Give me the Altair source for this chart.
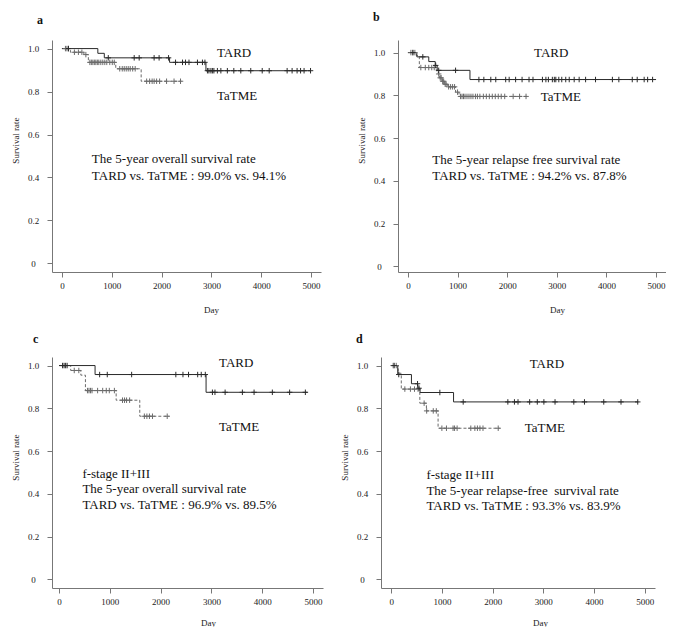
import altair as alt
import pandas as pd

FONT = "Liberation Serif"
PLUS = "M-1,0L1,0M0,-1L0,1"

# ---------------- data ----------------
# Panel a: overall survival
a_tard_t = [0, 720, 850, 2160, 2890, 5000]
a_tard_s = [1.0, 0.978, 0.957, 0.936, 0.897, 0.897]
a_tard_c = [130, 930, 1450, 1550, 1850, 1950, 2140, 2280, 2420, 2480, 2550, 2720, 2820, 2870,
            2920, 2950, 2990, 3020, 3050, 3120, 3190, 3320, 3450, 3590, 3790, 4020, 4160, 4520,
            4620, 4720, 4790, 4860, 4990]
a_tatme_t = [0, 170, 440, 530, 1080, 1590, 2400]
a_tatme_s = [1.0, 0.983, 0.972, 0.936, 0.906, 0.848, 0.848]
a_tatme_c = [70, 100, 130, 250, 330, 400, 480, 560, 590, 620, 650, 680, 710, 740, 780, 820, 860,
             900, 960, 1010, 1050, 1160, 1210, 1250, 1290, 1330, 1370, 1420, 1470, 1700, 1760,
             1810, 1850, 1900, 1960, 2100, 2250, 2380]

# Panel b: relapse free survival
b_tard_t = [0, 180, 420, 550, 590, 1250, 5000]
b_tard_s = [1.0, 0.98, 0.958, 0.94, 0.917, 0.874, 0.874]
b_tard_c = [100, 300, 560, 620, 960, 1430, 1530, 1670, 1770, 1970, 2040, 2170, 2300, 2440, 2520,
            2710, 2780, 2830, 2910, 2950, 2980, 3040, 3100, 3180, 3250, 3350, 3450, 3580, 3780,
            4120, 4250, 4520, 4620, 4760, 4830, 4930]
b_tatme_t = [0, 170, 230, 570, 610, 640, 690, 740, 800, 960, 1030, 2400]
b_tatme_s = [1.0, 0.986, 0.93, 0.915, 0.9, 0.882, 0.866, 0.852, 0.84, 0.815, 0.795, 0.795]
b_tatme_c = [60, 100, 140, 260, 350, 420, 480, 530, 620, 650, 670, 700, 720, 750, 770, 820, 860,
             900, 940, 1000, 1060, 1090, 1120, 1150, 1190, 1230, 1270, 1310, 1360, 1400, 1450,
             1520, 1580, 1640, 1700, 1760, 1820, 1880, 1950, 2120, 2250, 2380]

# Panel c: f-stage II+III overall survival
c_tard_t = [0, 710, 2895, 4890]
c_tard_s = [1.0, 0.958, 0.875, 0.875]
c_tard_c = [70, 100, 130, 160, 800, 950, 1430, 2300, 2440, 2550, 2730, 2800, 2880, 3020, 3070,
            3270, 3610, 3840, 4200, 4540, 4850]
c_tatme_t = [0, 230, 430, 520, 1125, 1590, 2170]
c_tatme_s = [1.0, 0.977, 0.955, 0.883, 0.838, 0.763, 0.763]
c_tatme_c = [300, 390, 560, 590, 620, 650, 760, 860, 930, 990, 1090, 1250, 1290, 1330, 1390,
             1680, 1730, 1780, 1840, 2130]

# Panel d: f-stage II+III relapse-free survival
d_tard_t = [0, 130, 400, 525, 570, 1230, 4870]
d_tard_s = [1.0, 0.958, 0.915, 0.894, 0.874, 0.83, 0.83]
d_tard_c = [60, 150, 520, 550, 960, 1420, 2300, 2430, 2500, 2730, 2880, 3010, 3230, 3600, 3810,
            4190, 4530, 4860]
d_tatme_t = [0, 140, 200, 565, 695, 925, 2140]
d_tatme_s = [1.0, 0.964, 0.89, 0.824, 0.788, 0.707, 0.707]
d_tatme_c = [40, 100, 270, 380, 460, 530, 650, 700, 830, 890, 1000, 1090, 1220, 1250, 1300,
             1570, 1650, 1700, 1750, 1810, 2110]

x_ticks = [0, 1000, 2000, 3000, 4000, 5000]
y_ticks = [0, 0.2, 0.4, 0.6, 0.8, 1.0]

a_text = ["The 5-year overall survival rate", "TARD vs. TaTME : 99.0% vs. 94.1%"]
b_text = ["The 5-year relapse free survival rate", "TARD vs. TaTME : 94.2% vs. 87.8%"]
c_text = ["f-stage II+III", "The 5-year overall survival rate", "TARD vs. TaTME : 96.9% vs. 89.5%"]
d_text = ["f-stage II+III", "The 5-year relapse-free\u00a0 survival rate",
          "TARD vs. TaTME : 93.3% vs. 83.9%"]


def step_df(t, s):
    return pd.DataFrame({"t": t, "s": s})


def censor_df(c, t, s):
    vals = []
    for ct in c:
        v = s[0]
        for ti, si in zip(t, s):
            if ti <= ct:
                v = si
        vals.append(v)
    return pd.DataFrame({"t": c, "s": vals})


def panel(letter, tard_t, tard_s, tard_c, tatme_t, tatme_s, tatme_c, lines, text_pos, line_gap,
          tard_pos, tatme_pos, xdom, ydom, width, height, dx, offset, title_x, xtitle_pad):
    xenc = alt.X("t:Q", scale=alt.Scale(domain=xdom, nice=False, zero=False),
                 axis=alt.Axis(values=x_ticks, title="Day", titleX=title_x,
                               titlePadding=xtitle_pad, labelPadding=4, tickSize=5,
                               grid=False, format="d"))
    yenc = alt.Y("s:Q", scale=alt.Scale(domain=ydom, nice=False, zero=False),
                 axis=alt.Axis(values=y_ticks, title="Survival rate", titleY=100,
                               titlePadding=7, tickSize=5, labelPadding=14,
                               labelAlign="center", grid=False,
                               labelExpr="datum.value == 0 ? '0' : format(datum.value, '.1f')"))
    tard_line = alt.Chart(step_df(tard_t, tard_s)).mark_line(
        interpolate="step-after", color="#2a2a2a", strokeWidth=1).encode(x=xenc, y=yenc)
    tatme_line = alt.Chart(step_df(tatme_t, tatme_s)).mark_line(
        interpolate="step-after", color="#6a6a6a", strokeWidth=1, strokeDash=[3, 2]
    ).encode(x=xenc, y=yenc)
    tard_pts = alt.Chart(censor_df(tard_c, tard_t, tard_s)).mark_point(
        shape=PLUS, size=30, filled=False, stroke="#2a2a2a", strokeWidth=1, opacity=1
    ).encode(x=xenc, y=yenc)
    tatme_pts = alt.Chart(censor_df(tatme_c, tatme_t, tatme_s)).mark_point(
        shape=PLUS, size=30, filled=False, stroke="#6a6a6a", strokeWidth=1, opacity=1
    ).encode(x=xenc, y=yenc)
    n = len(lines)
    ys = [text_pos[1] - i * line_gap for i in range(n)]
    txt = pd.DataFrame({"t": [text_pos[0]] * n, "s": ys, "label": lines})
    ann = alt.Chart(txt).mark_text(align="left", baseline="middle", font=FONT, fontSize=13,
                                   color="#111").encode(x=xenc, y=yenc, text="label:N")
    grp = pd.DataFrame({"t": [tard_pos[0], tatme_pos[0]], "s": [tard_pos[1], tatme_pos[1]],
                        "label": ["TARD", "TaTME"]})
    grp_txt = alt.Chart(grp).mark_text(align="left", baseline="middle", font=FONT, fontSize=13,
                                       color="#111").encode(x=xenc, y=yenc, text="label:N")
    return alt.layer(tatme_line, tard_line, tatme_pts, tard_pts, ann, grp_txt).properties(
        width=width, height=height,
        title=alt.TitleParams(letter, anchor="start", frame="group", dx=dx, offset=offset,
                              fontSize=12, fontWeight="bold", font=FONT, color="#111"))


pa = panel("a", a_tard_t, a_tard_s, a_tard_c, a_tatme_t, a_tatme_s, a_tatme_c, a_text,
           (600, 0.484), 0.078, (3110, 0.98), (3110, 0.777), [-200, 5200], [-0.04, 1.04],
           269, 232, -15, 13, 159, 15)
pb = panel("b", b_tard_t, b_tard_s, b_tard_c, b_tatme_t, b_tatme_s, b_tatme_c, b_text,
           (490, 0.497), 0.076, (2540, 1.0), (2675, 0.79), [-200, 5200], [-0.0262, 1.0589],
           268, 232, -25, 16, 159, 15)
pc = panel("c", c_tard_t, c_tard_s, c_tard_c, c_tatme_t, c_tatme_s, c_tatme_c, c_text,
           (460, 0.494), 0.072, (3150, 1.013), (3150, 0.712), [-138, 5197], [-0.04, 1.04],
           271, 231, -19, 11, 156, 12)
pd_ = panel("d", d_tard_t, d_tard_s, d_tard_c, d_tatme_t, d_tatme_s, d_tatme_c, d_text,
            (695, 0.486), 0.071, (2730, 1.008), (2632, 0.707), [-200, 5200], [-0.04, 1.04],
            274, 231, -25, 11, 159, 12)

chart = alt.vconcat(
    alt.hconcat(pa, pb, spacing=36),
    alt.hconcat(pc, pd_, spacing=17),
    spacing=18,
).properties(
    padding={"left": 3, "top": 3, "right": 0, "bottom": 0}
).configure(font=FONT).configure_view(stroke=None).configure_axis(
    labelFont=FONT, titleFont=FONT, labelFontSize=9, titleFontSize=9, titleFontWeight="normal",
    labelColor="#222", titleColor="#222", domainColor="#777", tickColor="#777",
    domainWidth=1, tickWidth=1
)

chart.save("out.html", embed_options={"renderer": "svg", "actions": False})
